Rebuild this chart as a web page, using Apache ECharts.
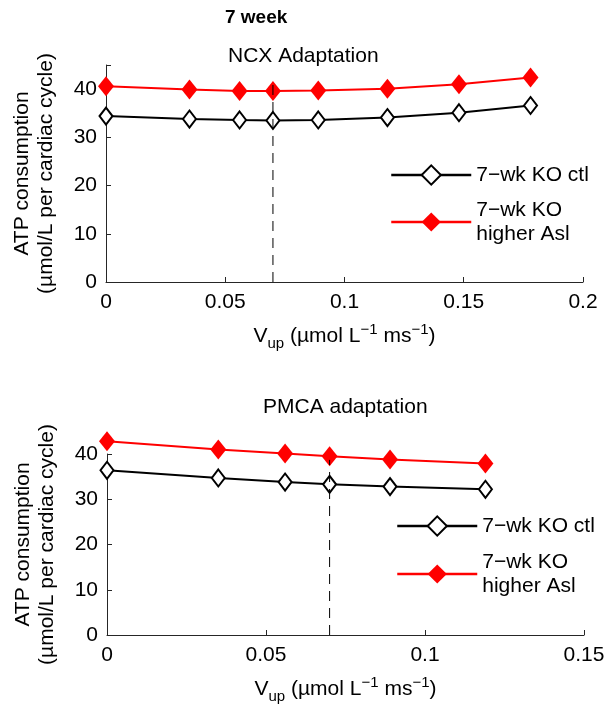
<!DOCTYPE html>
<html>
<head>
<meta charset="utf-8">
<script src="https://cdn.jsdelivr.net/npm/echarts@6/dist/echarts.min.js"></script>
<style>
html,body{margin:0;padding:0;background:#fff;}
#chart{width:609px;height:715px;}
</style>
</head>
<body>
<div id="chart"></div>
<script>
// ---- data ----
var ncxX = [0, 0.035, 0.056, 0.07, 0.089, 0.118, 0.148, 0.178];
var ncxCtl = [34.4, 33.8, 33.6, 33.5, 33.6, 34.1, 35.1, 36.6];
var ncxAsl = [40.6, 39.9, 39.6, 39.6, 39.7, 40.1, 41.0, 42.4];
var pmcaX = [0, 0.035, 0.056, 0.07, 0.089, 0.119];
var pmcaCtl = [36.4, 34.7, 33.8, 33.3, 32.8, 32.2];
var pmcaAsl = [42.8, 41.0, 40.1, 39.5, 38.8, 37.9];
var refX = 0.07;
var refTop = [41, 38.7];
var seriesNames = ['7\u2212wk KO ctl', '7\u2212wk KO\nhigher Asl'];
var titles = ['7 week', 'NCX Adaptation', 'PMCA adaptation'];
var yName = 'ATP consumption\n(\u00b5mol/L per cardiac cycle)';

var FONT = '"Liberation Sans", Arial, Helvetica, sans-serif';
var FS = 21;
function pairs(xs, ys) { return xs.map(function (x, i) { return [x, ys[i]]; }); }

var xName = '{n|V}{sub|up}{n| (\u00b5mol L}{sup|\u22121}{n| ms}{sup|\u22121}{n|)}';
var xNameStyle = {
  color: '#000', fontFamily: FONT,
  rich: {
    n: { fontSize: FS, fontFamily: FONT, color: '#000' },
    sub: { fontSize: 15, fontFamily: FONT, color: '#000', padding: [14, 0, 0, 0] },
    sup: { fontSize: 15, fontFamily: FONT, color: '#000', padding: [0, 0, 14, 0] }
  }
};

function xAxisOpt(grid, max) {
  return {
    type: 'value', gridIndex: grid, min: 0, max: max, interval: 0.05,
    name: xName, nameLocation: 'middle', nameGap: 40, nameTextStyle: xNameStyle,
    axisLine: { onZero: false, lineStyle: { color: '#262626', width: 1 } },
    axisTick: { inside: true, length: 5, lineStyle: { color: '#262626' } },
    splitLine: { show: false },
    axisLabel: { fontSize: FS, color: '#000', fontFamily: FONT, margin: 10 }
  };
}
function yAxisOpt(grid, max) {
  return {
    type: 'value', gridIndex: grid, min: 0, max: max, interval: 10,
    name: yName, nameLocation: 'middle', nameRotate: 90, nameGap: 48,
    nameTextStyle: { fontSize: FS, color: '#000', fontFamily: FONT, lineHeight: 24 },
    axisLine: { show: true, lineStyle: { color: '#262626', width: 1 } },
    axisTick: { show: true, inside: true, length: 5, lineStyle: { color: '#262626' } },
    splitLine: { show: false },
    axisLabel: { fontSize: FS, color: '#000', fontFamily: FONT, margin: 9,
      formatter: function (v) { return (v % 10 === 0) ? String(v) : ''; } }
  };
}
function ctlSeries(grid, xs, ys) {
  return {
    name: seriesNames[0], type: 'line', xAxisIndex: grid, yAxisIndex: grid,
    data: pairs(xs, ys), clip: false, z: 3,
    symbol: 'diamond', symbolSize: [13, 17],
    itemStyle: { color: '#fff', borderColor: '#000', borderWidth: 2 },
    lineStyle: { color: '#000', width: 2 }
  };
}
function aslSeries(grid, xs, ys) {
  return {
    name: seriesNames[1], type: 'line', xAxisIndex: grid, yAxisIndex: grid,
    data: pairs(xs, ys), clip: false, z: 3,
    symbol: 'diamond', symbolSize: [16, 20],
    itemStyle: { color: '#ff0000', borderColor: '#ff0000', borderWidth: 0 },
    lineStyle: { color: '#ff0000', width: 2 }
  };
}
function refSeries(grid, top) {
  return {
    name: 'ref', type: 'line', xAxisIndex: grid, yAxisIndex: grid,
    data: [[refX, 0], [refX, top]], symbol: 'none', z: 5, silent: true,
    lineStyle: { color: '#000', width: 1, type: [10, 7] }
  };
}
function legendOpt(name, left, top) {
  return {
    data: [name], left: left, top: top, orient: 'vertical', padding: 0,
    itemWidth: 80, itemHeight: 24, itemGap: 0, selectedMode: false,
    lineStyle: { width: 2.5 },
    textStyle: { fontSize: FS, color: '#000', fontFamily: FONT, lineHeight: 24 }
  };
}

var chart = echarts.init(document.getElementById('chart'), null, { renderer: 'canvas' });
chart.setOption({
  backgroundColor: '#fff',
  animation: false,
  grid: [
    { left: 106, top: 65, width: 477, height: 217 },
    { left: 107, top: 454, width: 477, height: 181 }
  ],
  xAxis: [xAxisOpt(0, 0.2), xAxisOpt(1, 0.15)],
  yAxis: [yAxisOpt(0, 45), yAxisOpt(1, 40)],
  legend: [
    legendOpt(seriesNames[0], 390, 163),
    legendOpt(seriesNames[1], 390, 198),
    legendOpt(seriesNames[0], 396, 514),
    legendOpt(seriesNames[1], 396, 550)
  ],
  graphic: [
    { type: 'text', left: 225, top: 8, style: { text: titles[0], font: 'bold 19px ' + FONT, fill: '#000' } },
    { type: 'text', left: 228, top: 46, style: { text: titles[1], font: FS + 'px ' + FONT, fill: '#000' } },
    { type: 'text', left: 263, top: 397, style: { text: titles[2], font: FS + 'px ' + FONT, fill: '#000' } }
  ],
  series: [
    refSeries(0, refTop[0]),
    ctlSeries(0, ncxX, ncxCtl),
    aslSeries(0, ncxX, ncxAsl),
    refSeries(1, refTop[1]),
    ctlSeries(1, pmcaX, pmcaCtl),
    aslSeries(1, pmcaX, pmcaAsl)
  ]
});
</script>
</body>
</html>
